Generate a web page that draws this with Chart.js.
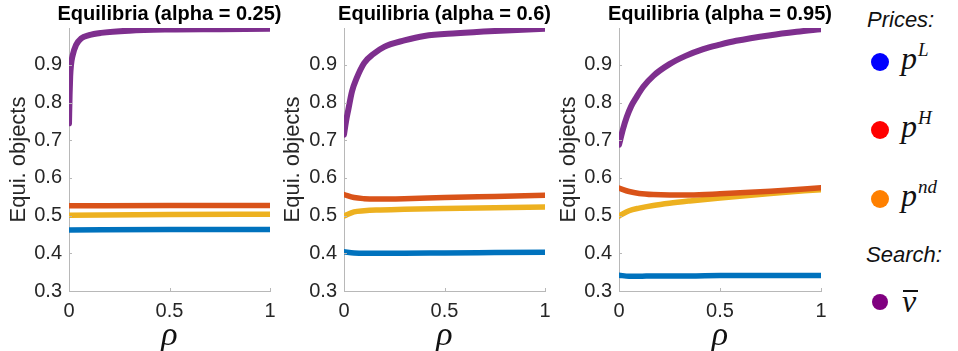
<!DOCTYPE html>
<html>
<head>
<meta charset="utf-8">
<script src="https://cdn.jsdelivr.net/npm/chart.js@4.4.1/dist/chart.umd.min.js"></script>
<style>
  body { margin: 0; width: 958px; height: 351px; background: #fff; position: relative; overflow: hidden; font-family: "Liberation Sans", Arial, sans-serif; }
  canvas { position: absolute; top: 0; }
  .lg { position: absolute; white-space: nowrap; color: #111; }
  .hd { font-style: italic; font-size: 22px; line-height: 22px; }
  .dot { position: absolute; border-radius: 50%; }
  .math { font-family: "Liberation Serif", "Times New Roman", serif; font-style: italic; font-size: 32px; line-height: 32px; }
  .math sup { font-size: 19px; vertical-align: 0; position: relative; top: -13px; margin-left: 1px; }
  .bar { position: absolute; height: 1.5px; background: #111; }
</style>
</head>
<body>
<canvas id="c0"></canvas>
<canvas id="c1"></canvas>
<canvas id="c2"></canvas>

<div class="lg hd" style="left:867px; top:9px;">Prices:</div>
<div class="dot" style="left:871px; top:53px; width:18px; height:18px; background:#0000ff;"></div>
<div class="lg math" style="left:901px; top:42px;">p<sup>L</sup></div>
<div class="dot" style="left:871px; top:121px; width:18px; height:18px; background:#ff0000;"></div>
<div class="lg math" style="left:901px; top:110px;">p<sup>H</sup></div>
<div class="dot" style="left:871px; top:190px; width:18px; height:18px; background:#ff8000;"></div>
<div class="lg math" style="left:901px; top:179px;">p<sup>nd</sup></div>
<div class="lg hd" style="left:866px; top:244px;">Search:</div>
<div class="dot" style="left:872px; top:294px; width:16px; height:16px; background:#800080;"></div>
<div class="lg math" style="left:902px; top:285px;">v</div>
<div class="bar" style="left:903px; top:290px; width:15px;"></div>

<script>
// axis ticks
const rhoTicks = [0, 0.5, 1];
const yTicks = [0.3, 0.4, 0.5, 0.6, 0.7, 0.8, 0.9];
const titles = ["Equilibria (alpha = 0.25)", "Equilibria (alpha = 0.6)", "Equilibria (alpha = 0.95)"];

// alpha = 0.25
const rhoA_v = [0, 0.003, 0.006, 0.01, 0.018, 0.035, 0.06, 0.1, 0.16, 0.3, 0.5, 0.75, 1];
const vbarA  = [0.745, 0.82, 0.87, 0.90, 0.925, 0.953, 0.970, 0.979, 0.985, 0.991, 0.994, 0.995, 0.996];
const rhoA   = [0, 0.5, 1];
const pLA    = [0.462, 0.463, 0.463];
const pHA    = [0.526, 0.527, 0.527];
const pndA   = [0.501, 0.503, 0.504];

// alpha = 0.6
const rhoB_v = [0, 0.01, 0.021, 0.04, 0.063, 0.1, 0.146, 0.2, 0.3, 0.4, 0.56, 0.75, 1];
const vbarB  = [0.715, 0.75, 0.78, 0.83, 0.865, 0.905, 0.929, 0.948, 0.965, 0.977, 0.984, 0.990, 0.996];
const rhoB   = [0, 0.05, 0.1, 0.16, 0.3, 0.5, 0.75, 1];
const pLB    = [0.404, 0.401, 0.400, 0.400, 0.400, 0.401, 0.402, 0.403];
const pHB    = [0.556, 0.548, 0.545, 0.544, 0.545, 0.548, 0.551, 0.554];
const pndB   = [0.499, 0.510, 0.513, 0.515, 0.517, 0.519, 0.521, 0.523];

// alpha = 0.95
const rhoC_v = [0, 0.02, 0.038, 0.06, 0.086, 0.12, 0.17, 0.25, 0.33, 0.417, 0.5, 0.58, 0.75, 0.88, 1];
const vbarC  = [0.688, 0.73, 0.761, 0.79, 0.814, 0.842, 0.871, 0.902, 0.924, 0.942, 0.954, 0.964, 0.979, 0.988, 0.995];
const rhoC   = [0, 0.05, 0.1, 0.17, 0.25, 0.35, 0.5, 0.75, 1];
const pLC    = [0.342, 0.339, 0.339, 0.340, 0.340, 0.340, 0.341, 0.341, 0.341];
const pHC    = [0.573, 0.564, 0.559, 0.556, 0.555, 0.555, 0.558, 0.565, 0.574];
const pndC   = [0.499, 0.513, 0.520, 0.527, 0.533, 0.539, 0.547, 0.559, 0.569];

const colL = "#0072BD", colH = "#D95319", colND = "#EDB120", colV = "#7E2F8E";

const pts = (xs, ys) => xs.map((x, i) => ({ x: x, y: ys[i] }));

const panels = [
  { left: 0,   axis: 69,  right: 270, rho: rhoA, rhoV: rhoA_v, pL: pLA, pH: pHA, pnd: pndA, vbar: vbarA },
  { left: 274, axis: 344, right: 545, rho: rhoB, rhoV: rhoB_v, pL: pLB, pH: pHB, pnd: pndB, vbar: vbarB },
  { left: 550, axis: 619, right: 821, rho: rhoC, rhoV: rhoC_v, pL: pLC, pH: pHC, pnd: pndC, vbar: vbarC },
];

// title over plot area + MATLAB-style inward tick marks
const panelDecor = {
  id: "panelDecor",
  afterDraw(chart, args, opts) {
    const { ctx, chartArea, scales } = chart;
    ctx.save();
    ctx.strokeStyle = "#b8b8b8";
    ctx.lineWidth = 1;
    scales.y.ticks.forEach(t => {
      const y = Math.round(scales.y.getPixelForValue(t.value)) + 0.5;
      ctx.beginPath();
      ctx.moveTo(chartArea.left, y);
      ctx.lineTo(chartArea.left + 3, y);
      ctx.stroke();
    });
    scales.x.ticks.forEach(t => {
      const x = Math.round(scales.x.getPixelForValue(t.value)) + 0.5;
      ctx.beginPath();
      ctx.moveTo(x, chartArea.bottom);
      ctx.lineTo(x, chartArea.bottom - 3);
      ctx.stroke();
    });
    ctx.font = 'bold 20px "Liberation Sans", Arial, sans-serif';
    ctx.fillStyle = "#000";
    ctx.textAlign = "center";
    ctx.textBaseline = "middle";
    ctx.fillText(opts.text, (chartArea.left + chartArea.right) / 2, 14);
    ctx.restore();
  }
};

const lineDs = (data, color, w) => ({
  data: data,
  borderColor: color,
  backgroundColor: color,
  borderWidth: w,
  pointRadius: 0,
  showLine: true,
  cubicInterpolationMode: "monotone",
  borderCapStyle: "round",
});

panels.forEach((p, i) => {
  const el = document.getElementById("c" + i);
  const w = p.right - p.left + 14;
  el.width = w;
  el.height = 351;
  el.style.left = p.left + "px";
  el.style.width = w + "px";
  el.style.height = "351px";
  const yWidth = p.axis - p.left;

  new Chart(el.getContext("2d"), {
    type: "scatter",
    data: {
      datasets: [
        lineDs(pts(p.rho, p.pL), colL, 5.5),
        lineDs(pts(p.rho, p.pH), colH, 5.5),
        lineDs(pts(p.rho, p.pnd), colND, 5.5),
        lineDs(pts(p.rhoV, p.vbar), colV, 6),
      ],
    },
    options: {
      responsive: false,
      animation: false,
      devicePixelRatio: 1,
      layout: { padding: { top: 28, right: 14, bottom: 0, left: 0 } },
      plugins: {
        legend: { display: false },
        tooltip: { enabled: false },
        panelDecor: { text: titles[i] },
      },
      scales: {
        x: {
          type: "linear",
          min: 0,
          max: 1,
          afterFit: s => { s.height = 60; s.paddingLeft = 0; s.paddingRight = 0; },
          afterBuildTicks: s => { s.ticks = rhoTicks.map(v => ({ value: v })); },
          grid: { display: false, drawTicks: false },
          border: { display: true, color: "#b8b8b8", width: 1 },
          ticks: {
            padding: 8,
            color: "#262626",
            font: { family: '"Liberation Sans", Arial, sans-serif', size: 20 },
            maxRotation: 0,
            callback: v => String(v),
          },
          title: {
            display: true,
            text: "ρ",
            color: "#111",
            padding: { top: 0, bottom: 1 },
            font: { family: '"Liberation Serif", "Times New Roman", serif', size: 34, style: "italic", lineHeight: 0.8 },
          },
        },
        y: {
          type: "linear",
          min: 0.3,
          max: 0.998,
          afterFit: s => { s.width = yWidth; },
          afterBuildTicks: s => { s.ticks = yTicks.map(v => ({ value: v })); },
          grid: { display: false, drawTicks: false },
          border: { display: true, color: "#b8b8b8", width: 1 },
          ticks: {
            padding: 7,
            color: "#262626",
            font: { family: '"Liberation Sans", Arial, sans-serif', size: 20 },
            callback: v => v.toFixed(1),
          },
          title: {
            display: true,
            text: "Equi. objects",
            color: "#262626",
            padding: { top: 6, bottom: 0 },
            font: { family: '"Liberation Sans", Arial, sans-serif', size: 22 },
          },
        },
      },
    },
    plugins: [panelDecor],
  });
});
</script>
</body>
</html>
